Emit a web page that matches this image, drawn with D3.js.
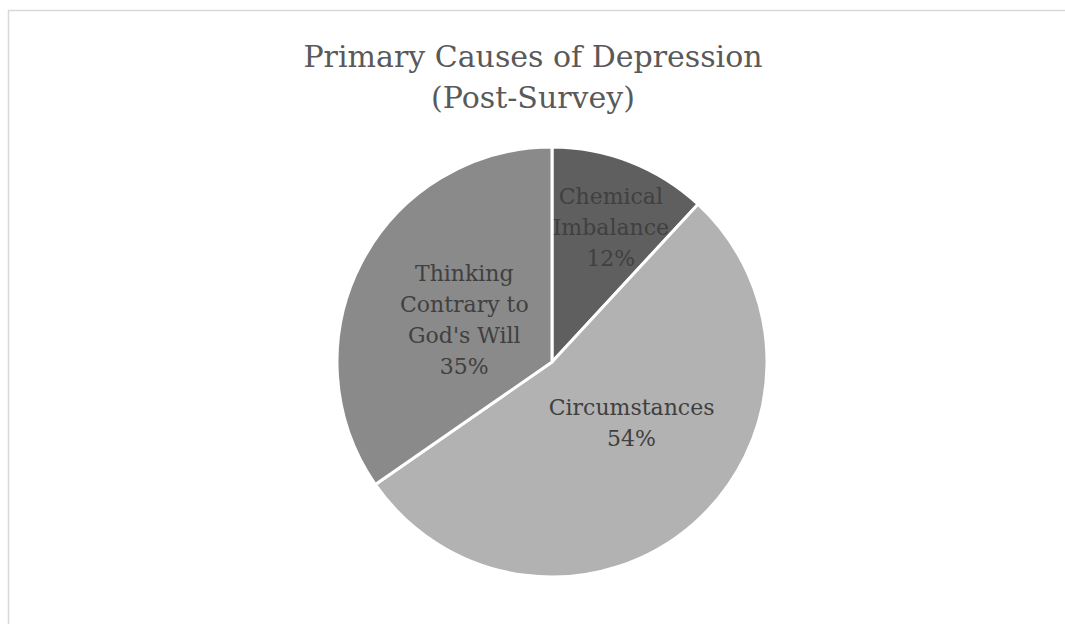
<!DOCTYPE html>
<html>
<head>
<meta charset="utf-8">
<script src="https://cdn.jsdelivr.net/npm/d3@7"></script>
<style>
  html, body { margin: 0; padding: 0; background: #fff; }
  svg { display: block; }
</style>
</head>
<body>
<svg id="chart" width="1065" height="624"></svg>
<script>
// Survey results: primary causes of depression (post-survey)
const categories = ["Chemical Imbalance", "Circumstances", "Thinking Contrary to God's Will"];
const values = [12, 54, 35];
const labelLines = [
  ["Chemical", "Imbalance"],
  ["Circumstances"],
  ["Thinking", "Contrary to", "God's Will"]
];
const titleLines = ["Primary Causes of Depression", "(Post-Survey)"];

const colors = ["#5f5f5f", "#b2b2b2", "#8a8a8a"];

const width = 1065, height = 624;
const cx = 552, cy = 362, radius = 215;
const titleX = 533;
const fontFamily = "'DejaVu Serif', 'Liberation Serif', serif";

const svg = d3.select("#chart");

// chart area frame
svg.append("rect")
  .attr("x", 8.5).attr("y", 10.5)
  .attr("width", width + 20).attr("height", height + 20)
  .attr("fill", "#fff")
  .attr("stroke", "#d9d9d9")
  .attr("stroke-width", 1.5);

// title
const title = svg.append("text")
  .attr("text-anchor", "middle")
  .attr("fill", "#595959")
  .attr("font-family", fontFamily)
  .attr("font-size", 30);
titleLines.forEach((t, i) => {
  title.append("tspan").attr("x", titleX).attr("y", 67 + i * 41).text(t);
});

const data = categories.map((c, i) => ({ category: c, value: values[i], lines: labelLines[i] }));

const pie = d3.pie().value(d => d.value).sort(null);
const arc = d3.arc().innerRadius(0).outerRadius(radius);
const arcs = pie(data);

const g = svg.append("g").attr("transform", `translate(${cx},${cy})`);

g.selectAll("path.slice")
  .data(arcs)
  .join("path")
  .attr("class", "slice")
  .attr("d", arc)
  .attr("fill", (d, i) => colors[i])
  .attr("stroke", "#fff")
  .attr("stroke-width", 3)
  .attr("stroke-linejoin", "round");

// label placement inside each slice (radius fraction plus a small nudge)
const labelLayout = [
  { r: 0.674, dx: 6, dy: 0 },
  { r: 0.465, dx: 14, dy: -15 },
  { r: 0.45, dx: -2, dy: 3 }
];
const pct = d3.format(".0f");
const lineH = 31;

g.selectAll("text.label")
  .data(arcs)
  .join("text")
  .attr("class", "label")
  .attr("text-anchor", "middle")
  .attr("fill", "#404040")
  .attr("font-family", fontFamily)
  .attr("font-size", 22)
  .each(function (d, i) {
    const lay = labelLayout[i];
    const la = d3.arc().innerRadius(radius * lay.r).outerRadius(radius * lay.r);
    const [x, y] = la.centroid(d);
    const lines = d.data.lines.concat([pct(d.data.value) + "%"]);
    const y0 = y + lay.dy - (lines.length - 1) * lineH / 2;
    const t = d3.select(this);
    lines.forEach((ln, k) => {
      t.append("tspan")
        .attr("x", x + lay.dx)
        .attr("y", y0 + k * lineH)
        .attr("dy", "0.35em")
        .text(ln);
    });
  });
</script>
</body>
</html>
